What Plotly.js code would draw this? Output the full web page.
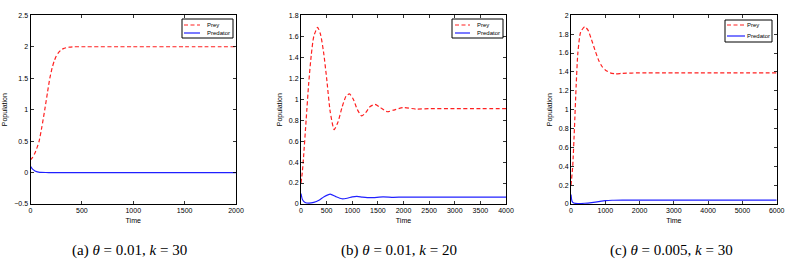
<!DOCTYPE html>
<html>
<head>
<meta charset="utf-8">
<script src="https://cdn.plot.ly/plotly-3.0.1.min.js"></script>
<style>html,body{margin:0;padding:0;background:#fff;}#chart{width:789px;height:265px;}</style>
</head>
<body>
<div id="chart"></div>
<script>
// Panel (a): theta = 0.01, k = 30
const timeA = [0, 20, 40, 60, 84, 110, 139, 165, 188, 210, 230, 250, 269, 295, 320, 350, 382, 420, 500, 1000, 1500, 2000];
const preyA = [0.2, 0.24, 0.3, 0.38, 0.5, 0.72, 1.0, 1.27, 1.5, 1.66, 1.77, 1.85, 1.9, 1.945, 1.97, 1.985, 1.995, 2.0, 2.0, 2.0, 2.0, 2.0];
const timeAp = [0, 10, 20, 40, 60, 80, 100, 150, 200, 500, 1000, 1500, 2000];
const predA = [0.1, 0.075, 0.055, 0.03, 0.015, 0.008, 0.004, 0.001, 0, 0, 0, 0, 0];

// Panel (b): theta = 0.01, k = 20
const timeB = [0, 25, 50, 100, 150, 200, 250, 324, 380, 440, 500, 570, 647, 720, 800, 880, 945, 1020, 1100, 1184, 1260, 1350, 1443, 1550, 1689, 1800, 1993, 2250, 2500, 3000, 3500, 4000];
const preyB = [0.2, 0.3, 0.45, 0.8, 1.15, 1.42, 1.6, 1.685, 1.62, 1.45, 1.2, 0.88, 0.71, 0.78, 0.92, 1.03, 1.05, 1.0, 0.9, 0.84, 0.87, 0.93, 0.95, 0.92, 0.88, 0.895, 0.92, 0.905, 0.91, 0.91, 0.91, 0.91];
const timeBp = [0, 30, 80, 150, 250, 350, 450, 570, 680, 796, 900, 1000, 1087, 1200, 1350, 1600, 1800, 2000, 3000, 4000];
const predB = [0.1, 0.04, 0.015, 0.008, 0.015, 0.035, 0.07, 0.095, 0.07, 0.05, 0.055, 0.068, 0.073, 0.066, 0.06, 0.068, 0.064, 0.066, 0.065, 0.065];

// Panel (c): theta = 0.005, k = 30
const timeC = [0, 50, 100, 150, 200, 280, 398, 500, 600, 700, 800, 900, 1000, 1146, 1290, 1500, 2000, 3000, 4000, 5000, 6000];
const preyC = [0.2, 0.4, 0.8, 1.25, 1.6, 1.82, 1.88, 1.84, 1.74, 1.63, 1.53, 1.46, 1.42, 1.39, 1.38, 1.385, 1.39, 1.39, 1.39, 1.39, 1.39];
const timeCp = [0, 30, 80, 200, 400, 600, 800, 1000, 1200, 1500, 2000, 3000, 4000, 5000, 6000];
const predC = [0.1, 0.03, 0.01, 0.005, 0.008, 0.015, 0.025, 0.035, 0.04, 0.042, 0.042, 0.042, 0.042, 0.042, 0.042];

const captions = ["(a) <i>θ</i> = 0.01, <i>k</i> = 30", "(b) <i>θ</i> = 0.01, <i>k</i> = 20", "(c) <i>θ</i> = 0.005, <i>k</i> = 30"];
const seriesNames = ["Prey", "Predator"];
const seriesColors = ["#ff2020", "#2020ff"];
const seriesDash = ["4px,2.5px", "solid"];

const W = 789, H = 265;
const panels = [
  {x0: 30.5, x1: 236, t: timeA, prey: preyA, tp: timeAp, pred: predA, xr: [0, 2000], xd: 500, yr: [-0.5, 2.5], yd: 0.5, cap: 129,
   box: [182, 19, 233, 38], sample: [184, 200], txt: 206, rows: [25, 33]},
  {x0: 301, x1: 506, t: timeB, prey: preyB, tp: timeBp, pred: predB, xr: [0, 4000], xd: 500, yr: [0, 1.8], yd: 0.2, cap: 399,
   box: [452, 19, 503, 38], sample: [455, 470], txt: 476, rows: [25, 33]},
  {x0: 571, x1: 776.7, t: timeC, prey: preyC, tp: timeCp, pred: predC, xr: [0, 6000], xd: 1000, yr: [0, 2], yd: 0.2, cap: 671,
   box: [725, 20, 772, 42], sample: [727, 745], txt: 746, rows: [25, 36]}
];
const yTop = 15.3, yBot = 204;
const sans = '"Liberation Sans", Arial, sans-serif';
const tickFont = {family: sans, size: 7, color: "#000"};

const data = [], annotations = [], shapes = [];
const layout = {
  width: W, height: H,
  margin: {l: 0, r: 0, t: 0, b: 0},
  paper_bgcolor: "#fff", plot_bgcolor: "#fff",
  showlegend: false,
  annotations: annotations,
  shapes: shapes
};
const px = v => v / W, py = v => 1 - v / H;

panels.forEach((p, i) => {
  const s = i === 0 ? "" : String(i + 1);
  const xa = "xaxis" + s, ya = "yaxis" + s;
  data.push({x: p.t, y: p.prey, xaxis: "x" + s, yaxis: "y" + s, name: seriesNames[0],
    mode: "lines", line: {color: seriesColors[0], width: 1.2, dash: seriesDash[0], shape: "spline", smoothing: 0.6}});
  data.push({x: p.tp, y: p.pred, xaxis: "x" + s, yaxis: "y" + s, name: seriesNames[1],
    mode: "lines", line: {color: seriesColors[1], width: 1.2, shape: "spline", smoothing: 0.6}});
  const common = {showline: true, linecolor: "#000", linewidth: 1, mirror: "ticks", ticks: "inside",
    ticklen: 3, tickcolor: "#000", tickwidth: 0.8, showgrid: false, zeroline: false, tickfont: tickFont, fixedrange: true};
  layout[xa] = Object.assign({}, common, {domain: [px(p.x0), px(p.x1)], range: p.xr, dtick: p.xd, tick0: 0,
    anchor: "y" + s, title: {text: "Time", font: {family: sans, size: 7, color: "#000"}, standoff: 4}});
  layout[ya] = Object.assign({}, common, {domain: [py(yBot), py(yTop)], range: p.yr, dtick: p.yd, tick0: 0,
    anchor: "x" + s, title: {text: "Population", font: {family: sans, size: 7, color: "#000"}, standoff: 5}});
  // legend box
  shapes.push({type: "rect", xref: "paper", yref: "paper", x0: px(p.box[0]), x1: px(p.box[2]), y0: py(p.box[1]), y1: py(p.box[3]),
    line: {color: "#000", width: 1}, fillcolor: "#fff", layer: "above"});
  seriesNames.forEach((nm, j) => {
    shapes.push({type: "line", xref: "paper", yref: "paper", x0: px(p.sample[0]), x1: px(p.sample[1]), y0: py(p.rows[j]), y1: py(p.rows[j]),
      line: {color: seriesColors[j], width: 1.2, dash: seriesDash[j]}, layer: "above"});
    annotations.push({text: nm, xref: "paper", yref: "paper", x: px(p.txt), y: py(p.rows[j]), xanchor: "left", yanchor: "middle",
      showarrow: false, borderpad: 0, font: {family: sans, size: 6, color: "#000"}});
  });
  annotations.push({text: captions[i], xref: "paper", yref: "paper", x: px(p.cap), y: py(250),
    xanchor: "center", yanchor: "middle", showarrow: false,
    font: {family: '"Liberation Serif", "Times New Roman", serif', size: 15, color: "#000"}});
});

Plotly.newPlot("chart", data, layout, {displayModeBar: false, staticPlot: true});
</script>
</body>
</html>
